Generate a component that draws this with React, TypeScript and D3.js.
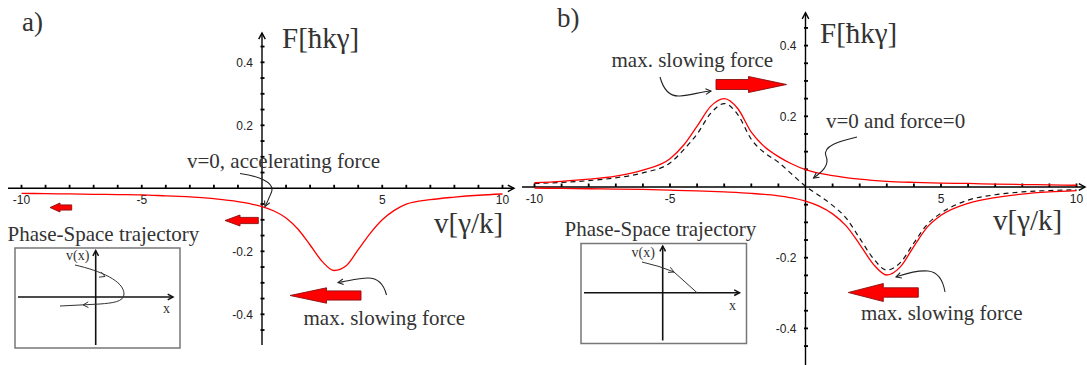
import React from "react";
import * as d3 from "d3";

// Panel a: single-beam force F(v)
const vA = [-10, -9, -8, -7, -6, -5, -4, -3, -2, -1, -0.5, 0, 0.5, 1, 1.5, 2, 2.5, 3, 3.5, 4, 4.5, 5, 5.5, 6, 7, 8, 9, 10];
const forceA = [-0.016, -0.017, -0.018, -0.019, -0.02, -0.021, -0.024, -0.027, -0.033, -0.042, -0.049, -0.058, -0.072, -0.094, -0.13, -0.18, -0.232, -0.261, -0.246, -0.195, -0.143, -0.1, -0.07, -0.05, -0.036, -0.028, -0.022, -0.018];

// Panel b: counter-propagating beams, each beam's force and their sum
const vBUpper = [-10, -9, -8, -7, -6, -5, -4.5, -4, -3.5, -3, -2.5, -2, -1.5, -1, -0.5, 0, 1, 2, 3, 4, 5, 6, 7, 8, 9, 10];
const forceBUpper = [0.012, 0.016, 0.022, 0.031, 0.048, 0.08, 0.118, 0.172, 0.228, 0.25, 0.222, 0.155, 0.113, 0.086, 0.065, 0.049, 0.032, 0.022, 0.016, 0.013, 0.011, 0.01, 0.008, 0.007, 0.006, 0.005];

const vBLower = [-10, -9, -8, -7, -6, -5, -4, -3, -2, -1, -0.5, 0, 0.5, 1, 1.5, 2, 2.5, 3, 3.5, 4, 4.5, 5, 6, 7, 8, 9, 10];
const forceBLower = [-0.003, -0.004, -0.005, -0.006, -0.007, -0.009, -0.011, -0.014, -0.018, -0.025, -0.031, -0.04, -0.054, -0.076, -0.11, -0.162, -0.218, -0.249, -0.226, -0.168, -0.113, -0.08, -0.046, -0.03, -0.02, -0.014, -0.01];

const vBSum = [-10, -9, -8, -7, -6, -5, -4.5, -4, -3.5, -3, -2.5, -2, -1.5, -1, -0.5, 0, 0.5, 1, 1.5, 2, 2.5, 3, 3.5, 4, 4.5, 5, 6, 7, 8, 9, 10];
const forceBSum = [0.01, 0.013, 0.018, 0.026, 0.04, 0.068, 0.105, 0.15, 0.208, 0.236, 0.205, 0.135, 0.096, 0.07, 0.036, 0.002, -0.024, -0.052, -0.088, -0.145, -0.202, -0.235, -0.214, -0.158, -0.105, -0.074, -0.037, -0.022, -0.014, -0.01, -0.008];

const xTickLabels = [-10, -5, 5, 10];
const yTickLabels = [0.4, 0.2, -0.2, -0.4];

const SERIF = "'Liberation Serif', 'Times New Roman', serif";
const SANS = "'Liberation Sans', Arial, sans-serif";
const TEXT = "#333";
const RED = "#ff0000";

type Scale = d3.ScaleLinear<number, number>;

function zip(xs: number[], ys: number[]): [number, number][] {
  return xs.map((v, i) => [v, ys[i]]);
}

// Thick block arrow; dir = -1 points left, +1 points right
function blockArrow(tipX: number, cy: number, len: number, head: number, headHalf: number, bodyHalf: number, dir: number) {
  const hb = tipX - dir * head;
  const tail = tipX - dir * len;
  return `M${tipX},${cy} L${hb},${cy - headHalf} L${hb},${cy - bodyHalf} L${tail},${cy - bodyHalf} L${tail},${cy + bodyHalf} L${hb},${cy + bodyHalf} L${hb},${cy + headHalf} Z`;
}

// Open arrowhead at (x,y) pointing along angle (degrees)
function chevron(x: number, y: number, angle: number, size = 6, spread = 28) {
  const a1 = ((angle + 180 - spread) * Math.PI) / 180;
  const a2 = ((angle + 180 + spread) * Math.PI) / 180;
  return `M${x + size * Math.cos(a1)},${y + size * Math.sin(a1)} L${x},${y} L${x + size * Math.cos(a2)},${y + size * Math.sin(a2)}`;
}

function Axes({ x, y, xStart, xEnd, yTop, yBottom }: { x: Scale; y: Scale; xStart: number; xEnd: number; yTop: number; yBottom: number }) {
  const x0 = x(0);
  const y0 = y(0);
  const xTicks = d3.range(-10, 11).filter((v) => v !== 0);
  const fMin = y.invert(yBottom);
  const fMax = y.invert(yTop);
  const yTicks = d3
    .range(-10, 11)
    .map((k) => k * 0.05)
    .filter((f) => Math.abs(f) > 1e-9 && f > fMin + 0.01 && f < fMax - 0.01);
  return (
    <g>
      <line x1={xStart} x2={xEnd} y1={y0} y2={y0} stroke="#000" strokeWidth={1.4} />
      <path d={chevron(xEnd, y0, 0, 7)} stroke="#000" strokeWidth={1.4} fill="none" />
      <line x1={x0} x2={x0} y1={yTop} y2={yBottom} stroke="#000" strokeWidth={1.4} />
      <path d={chevron(x0, yTop, -90, 7)} stroke="#000" strokeWidth={1.4} fill="none" />
      {xTicks.map((v) => (
        <line key={"xt" + v} x1={x(v)} x2={x(v)} y1={y0} y2={y0 - 3.5} stroke="#000" strokeWidth={1.8} />
      ))}
      {yTicks.map((f) => (
        <line key={"yt" + f} x1={x0 - 1.5} x2={x0 + 2.5} y1={y(f)} y2={y(f)} stroke="#000" strokeWidth={1.8} />
      ))}
      {xTickLabels.map((v) => (
        <text key={"xl" + v} x={x(v)} y={y0 + 16} textAnchor="middle" fontFamily={SANS} fontSize={12} fill="#222">
          {v}
        </text>
      ))}
      {yTickLabels.map((f) => (
        <text key={"yl" + f} x={x0 - 9} y={y(f) + 4.2} textAnchor="end" fontFamily={SANS} fontSize={12} fill="#222">
          {f}
        </text>
      ))}
    </g>
  );
}

function Inset({ left, top, width, height, axisX, axisY, children }: { left: number; top: number; width: number; height: number; axisX: number; axisY: number; children?: React.ReactNode }) {
  return (
    <g>
      <rect x={left} y={top} width={width} height={height} fill="none" stroke="#777" strokeWidth={1.5} />
      <line x1={left + 3} x2={left + width - 7} y1={axisY} y2={axisY} stroke="#111" strokeWidth={1.6} />
      <path d={chevron(left + width - 7, axisY, 0, 6)} stroke="#111" strokeWidth={1.5} fill="none" />
      <line x1={axisX} x2={axisX} y1={top + 2.5} y2={top + height - 3} stroke="#111" strokeWidth={1.6} />
      <path d={chevron(axisX, top + 2.5, -90, 6)} stroke="#111" strokeWidth={1.5} fill="none" />
      {children}
    </g>
  );
}

export default function App() {
  // Panel scales
  const xA = d3.scaleLinear().domain([-10, 10]).range([21.5, 502.5]);
  const yA = d3.scaleLinear().domain([-0.4, 0.4]).range([314.3, 62.3]);
  const xB = d3.scaleLinear().domain([-10, 10]).range([534.5, 1076.5]);
  const yB = d3.scaleLinear().domain([-0.4, 0.4]).range([328.4, 45.6]);

  const lineA = d3
    .line<[number, number]>()
    .x((d) => xA(d[0]))
    .y((d) => yA(d[1]))
    .curve(d3.curveMonotoneX);
  const lineB = d3
    .line<[number, number]>()
    .x((d) => xB(d[0]))
    .y((d) => yB(d[1]))
    .curve(d3.curveMonotoneX);

  const note = { fontFamily: SERIF, fontSize: 21, fill: TEXT };
  const title = { fontFamily: SERIF, fontSize: 29, fill: TEXT };
  const pointer = { stroke: "#222", strokeWidth: 1.1, fill: "none" };
  const blockStyle = { fill: RED, stroke: "#8a1010", strokeWidth: 0.9 };
  const traj = { stroke: "#333", strokeWidth: 1, fill: "none" };

  return (
    <div style={{ position: "fixed", left: 0, top: 0 }}>
      <svg width={1087} height={365} viewBox="0 0 1087 365" style={{ display: "block", background: "#fff" }}>
        {/* ---------- panel a ---------- */}
        <text x={22} y={31} fontFamily={SERIF} fontSize={27} fill={TEXT}>a)</text>
        <Axes x={xA} y={yA} xStart={8} xEnd={514} yTop={33} yBottom={345} />
        <text x={282} y={47.5} {...title}>F[ħkγ]</text>
        <text x={434} y={233} {...title}>v[γ/k]</text>
        <path d={lineA(zip(vA, forceA)) || ""} stroke={RED} strokeWidth={1.3} fill="none" />

        <text x={187} y={167.5} {...note}>v=0, accelerating force</text>
        <path d="M240,173.5 C258,176 275,182 271.5,192 C269,198 267,203 265,206.5" {...pointer} />
        <path d={chevron(265, 206.5, 114, 6)} {...pointer} />

        <path d={blockArrow(50, 207.5, 21.7, 10, 4.5, 2.6, -1)} {...blockStyle} />
        <path d={blockArrow(225, 220.5, 33.3, 15, 5.5, 3.1, -1)} {...blockStyle} />
        <path d={blockArrow(290, 295.5, 71, 36.5, 7.7, 4.6, -1)} {...blockStyle} />

        <path d="M386.5,295 C384,285 378,278 368,278 C358,278 348,281 338,282.5" {...pointer} />
        <path d={chevron(338, 282.5, 172, 6)} {...pointer} />
        <text x={303.5} y={324.5} {...note}>max. slowing force</text>

        <text x={7.5} y={240.5} {...note}>Phase-Space trajectory</text>
        <Inset left={15} top={248} width={165} height={100} axisX={95.7} axisY={297}>
          <text x={66} y={260} fontFamily={SERIF} fontSize={14} fill={TEXT}>v(x)</text>
          <text x={163} y={313} fontFamily={SERIF} fontSize={14} fill={TEXT}>x</text>
          <path d="M75,265 C101,271 124,281 124,294 C124,302 112,303 100,304 L60,306" {...traj} />
          <path d={chevron(105, 276.5, 22, 6)} {...traj} />
          <path d={chevron(83, 304.9, 178, 6)} {...traj} />
        </Inset>

        {/* ---------- panel b ---------- */}
        <text x={557} y={27} fontFamily={SERIF} fontSize={27} fill={TEXT}>b)</text>
        <Axes x={xB} y={yB} xStart={522} xEnd={1085} yTop={12.7} yBottom={365} />
        <text x={820} y={43} {...title}>F[ħkγ]</text>
        <text x={993} y={230} {...title}>v[γ/k]</text>
        <path d={lineB(zip(vBSum, forceBSum)) || ""} stroke="#111" strokeWidth={1.2} strokeDasharray="5,4" fill="none" />
        <path d={lineB(zip(vBUpper, forceBUpper)) || ""} stroke={RED} strokeWidth={1.3} fill="none" />
        <path d={lineB(zip(vBLower, forceBLower)) || ""} stroke={RED} strokeWidth={1.3} fill="none" />

        <text x={611.5} y={67} {...note}>max. slowing force</text>
        <path d="M660,77 C663,88 668,97 680,96 C692,95 700,92 711,91" {...pointer} />
        <path d={chevron(711, 91, -6, 6)} {...pointer} />
        <path d={blockArrow(786.5, 84.5, 70.5, 38, 8, 5, 1)} {...blockStyle} />

        <text x={826} y={127.5} {...note}>v=0 and force=0</text>
        <path d="M857,137 C840,141 822,146 826,156 C830,165 822,172 813.5,178" {...pointer} />
        <path d={chevron(813.5, 178, 145, 6)} {...pointer} />

        <path d={blockArrow(848.3, 292.5, 70, 35, 9, 4.7, -1)} {...blockStyle} />
        <path d="M945,292 C943,280 938,272 928,271 C915,270 905,274 896,277" {...pointer} />
        <path d={chevron(896, 277, 162, 6)} {...pointer} />
        <text x={861} y={319.5} {...note}>max. slowing force</text>

        <text x={564.5} y={235.5} {...note}>Phase-Space trajectory</text>
        <Inset left={581} top={243.5} width={165.5} height={100} axisX={662.7} axisY={292.7}>
          <text x={631.5} y={256.5} fontFamily={SERIF} fontSize={14} fill={TEXT}>v(x)</text>
          <text x={729} y={310} fontFamily={SERIF} fontSize={14} fill={TEXT}>x</text>
          <path d="M642,262 Q660,266 674,272 L697,292.7" {...traj} />
          <path d={chevron(674, 272, 24, 6)} {...traj} />
        </Inset>
      </svg>
    </div>
  );
}
